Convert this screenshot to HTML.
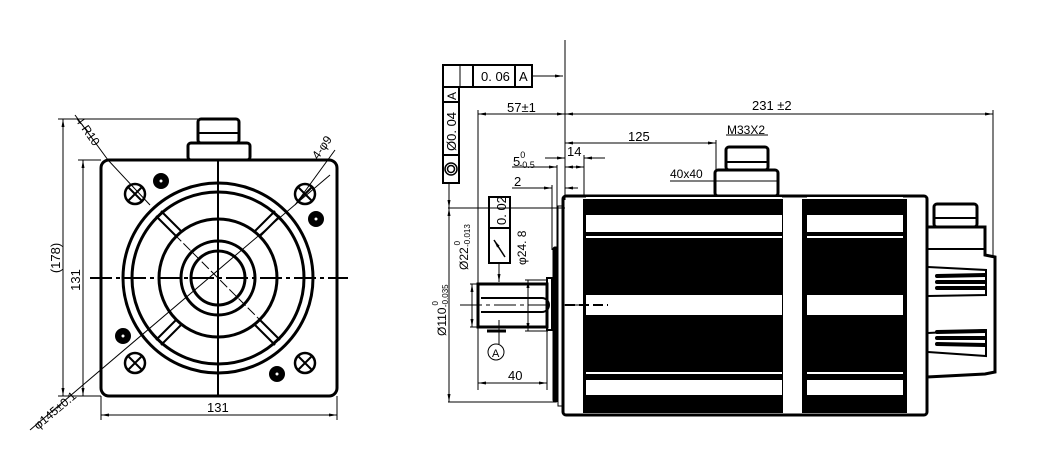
<!DOCTYPE html>
<html><head><meta charset="utf-8"><style>
html,body{margin:0;padding:0;background:#fff;width:1053px;height:461px;overflow:hidden}
svg text{font-family:"Liberation Sans",sans-serif;fill:#000}
</style></head><body>
<svg width="1053" height="461" viewBox="0 0 1053 461" xmlns="http://www.w3.org/2000/svg">
<defs>
<marker id="a" markerWidth="8" markerHeight="6" refX="8" refY="3" orient="auto-start-reverse" markerUnits="userSpaceOnUse"><path d="M0,1.5 L8,3 L0,4.5z" fill="#000"/></marker>
</defs>
<g fill="none" stroke="#000">
<rect x="101" y="160" width="236" height="236" rx="8" stroke-width="3"/>
<rect x="188" y="143" width="62" height="17" rx="3" stroke-width="3"/>
<rect x="198" y="119" width="41" height="24" rx="3" stroke-width="3"/>
<line x1="199" y1="133" x2="238" y2="133" stroke-width="2"/>
<g stroke-width="3">
<circle cx="218" cy="278" r="95"/>
<circle cx="218" cy="278" r="86"/>
<circle cx="218" cy="278" r="59"/>
<circle cx="218" cy="278" r="37"/>
<circle cx="218" cy="278" r="27"/>
</g>
<g stroke-width="2">
<line x1="156" y1="216" x2="176" y2="236"/><line x1="161" y1="211" x2="181" y2="231"/>
<line x1="280" y1="216" x2="260" y2="236"/><line x1="275" y1="211" x2="255" y2="231"/>
<line x1="156" y1="340" x2="176" y2="320"/><line x1="161" y1="345" x2="181" y2="325"/>
<line x1="280" y1="340" x2="260" y2="320"/><line x1="275" y1="345" x2="255" y2="325"/>
</g>
<line x1="218" y1="160" x2="218" y2="396" stroke-width="2"/>
<line x1="90" y1="278" x2="348" y2="278" stroke-width="2" stroke-dasharray="22,4,4,4"/>
<line x1="165" y1="225" x2="271" y2="331" stroke-width="1" stroke-dasharray="10,3"/>
<line x1="30" y1="430" x2="330" y2="175" stroke-width="1"/>
<line x1="75" y1="115" x2="108" y2="160" stroke-width="1"/>
<line x1="108" y1="160" x2="150" y2="205" stroke-width="1"/>
<line x1="335" y1="150" x2="295" y2="205" stroke-width="1"/>
<g stroke-width="2.5">
<circle cx="135" cy="194" r="10"/><circle cx="305" cy="194" r="10"/>
<circle cx="135" cy="363" r="10"/><circle cx="305" cy="363" r="10"/>
</g>
<g stroke-width="2">
<path d="M128,187l14,14M142,187l-14,14M298,187l14,14M312,187l-14,14M128,356l14,14M142,356l-14,14M298,356l14,14M312,356l-14,14"/>
</g>
<g stroke-width="1">
<line x1="63" y1="119" x2="63" y2="396" marker-start="url(#a)" marker-end="url(#a)"/>
<line x1="58" y1="119" x2="198" y2="119"/>
<line x1="58" y1="396" x2="101" y2="396"/>
<line x1="83" y1="160" x2="83" y2="396" marker-start="url(#a)" marker-end="url(#a)"/>
<line x1="78" y1="160" x2="101" y2="160"/>
<line x1="101" y1="396" x2="101" y2="420"/><line x1="337" y1="396" x2="337" y2="420"/>
<line x1="101" y1="415" x2="337" y2="415" marker-start="url(#a)" marker-end="url(#a)"/>
</g>
</g>
<g fill="#000">
<circle cx="161" cy="181" r="8"/><circle cx="316" cy="219" r="8"/>
<circle cx="123" cy="336" r="8"/><circle cx="277" cy="374" r="8"/>
</g>
<g fill="#fff"><circle cx="161" cy="181" r="1.5"/><circle cx="316" cy="219" r="1.5"/><circle cx="123" cy="336" r="1.5"/><circle cx="277" cy="374" r="1.5"/></g>
<text x="207" y="412" font-size="13">131</text>
<text transform="translate(60,258) rotate(-90)" font-size="13" text-anchor="middle">(178)</text>
<text transform="translate(80,280) rotate(-90)" font-size="13" text-anchor="middle">131</text>
<text transform="translate(75,120) rotate(55)" font-size="12">4-R10</text>
<text transform="translate(318,160) rotate(-55)" font-size="12">4-φ9</text>
<text transform="translate(38,430) rotate(-40)" font-size="12">φ145±0.1</text>

<g fill="none" stroke="#000">
<line x1="565" y1="40" x2="565" y2="200" stroke-width="1"/>
<rect x="443" y="65" width="89" height="22" stroke-width="2"/>
<line x1="473" y1="65" x2="473" y2="87" stroke-width="2"/><line x1="515" y1="65" x2="515" y2="87" stroke-width="2"/>
<line x1="460" y1="65" x2="460" y2="87" stroke-width="1"/>
<rect x="443" y="87" width="16" height="96" stroke-width="2"/>
<line x1="443" y1="102" x2="459" y2="102" stroke-width="2"/><line x1="443" y1="155" x2="459" y2="155" stroke-width="2"/>
<circle cx="451" cy="169" r="6" stroke-width="1.5"/><circle cx="451" cy="169" r="3.5" stroke-width="1.5"/>
<line x1="532" y1="76" x2="563" y2="76" stroke-width="1" marker-end="url(#a)"/>
<line x1="449" y1="183" x2="449" y2="208" stroke-width="1" marker-end="url(#a)"/>
<g stroke-width="1">
<line x1="478" y1="114" x2="565" y2="114" marker-start="url(#a)" marker-end="url(#a)"/>
<line x1="565" y1="114" x2="993" y2="114" marker-start="url(#a)" marker-end="url(#a)"/>
<line x1="993" y1="110" x2="993" y2="258"/>
<line x1="478" y1="110" x2="478" y2="390"/>
<line x1="565" y1="143" x2="716" y2="143" marker-start="url(#a)" marker-end="url(#a)"/>
<line x1="716" y1="140" x2="716" y2="170"/>
<line x1="545" y1="158" x2="565" y2="158" marker-end="url(#a)"/>
<line x1="584" y1="158" x2="605" y2="158" marker-start="url(#a)"/>
<line x1="584" y1="155" x2="584" y2="195"/>
<line x1="512" y1="167" x2="557" y2="167" marker-end="url(#a)"/>
<line x1="565" y1="167" x2="584" y2="167" marker-start="url(#a)" marker-end="url(#a)"/>
<line x1="557" y1="165" x2="557" y2="250"/>
<line x1="552" y1="185" x2="552" y2="250"/>
<line x1="512" y1="188" x2="552" y2="188" marker-end="url(#a)"/>
<line x1="565" y1="188" x2="578" y2="188" marker-start="url(#a)"/>
<line x1="726" y1="135" x2="768" y2="135"/>
<line x1="670" y1="181" x2="778" y2="181"/>
<line x1="448" y1="208" x2="565" y2="208"/>
<line x1="448" y1="402" x2="556" y2="402"/>
<line x1="449" y1="208" x2="449" y2="402" marker-start="url(#a)" marker-end="url(#a)"/>
<line x1="470" y1="284" x2="478" y2="284"/><line x1="470" y1="327" x2="478" y2="327"/>
<line x1="472" y1="284" x2="472" y2="327" marker-start="url(#a)" marker-end="url(#a)"/>
<line x1="525" y1="280" x2="548" y2="280"/><line x1="525" y1="331" x2="548" y2="331"/>
<line x1="528" y1="280" x2="528" y2="331" marker-start="url(#a)" marker-end="url(#a)"/>
<line x1="547" y1="330" x2="547" y2="390"/>
<line x1="478" y1="383" x2="547" y2="383" marker-start="url(#a)" marker-end="url(#a)"/>
<line x1="499" y1="263" x2="499" y2="282" marker-end="url(#a)"/>
<line x1="499" y1="320" x2="499" y2="344"/>
<line x1="460" y1="305" x2="608" y2="305" stroke-dasharray="22,4,4,4"/>
</g>
<rect x="489" y="197" width="21" height="66" stroke-width="2"/>
<line x1="489" y1="228" x2="510" y2="228" stroke-width="2"/>
<line x1="505" y1="257" x2="494" y2="240" stroke-width="1.5" marker-end="url(#a)"/>
<circle cx="496" cy="352" r="8" stroke-width="1"/>
<line x1="487" y1="331" x2="506" y2="331" stroke-width="3"/>
<rect x="478" y="284" width="69" height="43" stroke-width="3"/>
<path d="M481,298 H542 a7,7 0 0 1 0,14 H481" stroke-width="2"/>
<rect x="547" y="278" width="5" height="52" stroke-width="2"/>
<rect x="553" y="247" width="5" height="155" rx="2" fill="#000"/>
<rect x="558" y="206" width="5" height="200" stroke-width="1"/>
<rect x="563" y="196" width="364" height="219" rx="3" stroke-width="3"/>
<rect x="715" y="170" width="63" height="26" rx="3" stroke-width="3"/>
<rect x="726" y="147" width="42" height="23" rx="3" stroke-width="3"/>
<line x1="727" y1="162" x2="767" y2="162" stroke-width="2"/>
<path d="M927,227 H985 V255 L995,257 V372 L985,374 L927,377" stroke-width="3"/>
<rect x="934" y="204" width="43" height="23" rx="3" stroke-width="3"/>
<line x1="935" y1="218" x2="976" y2="218" stroke-width="2"/>
<line x1="927" y1="249" x2="985" y2="249" stroke-width="2"/>
<path d="M928,267 L986,270 V295 L928,296" stroke-width="2"/>
<path d="M928,333 L986,330 V356 L928,352" stroke-width="2"/>
</g>
<g fill="#000">
<rect x="583" y="199" width="200" height="214"/>
<rect x="802" y="199" width="105" height="214"/>
<g stroke="#000" stroke-width="4" stroke-linecap="round"><line x1="937" y1="276" x2="985" y2="275"/><line x1="937" y1="282" x2="985" y2="282"/><line x1="937" y1="288" x2="985" y2="288"/>
<line x1="937" y1="332" x2="985" y2="331"/><line x1="937" y1="338" x2="985" y2="338"/><line x1="937" y1="344" x2="985" y2="345"/></g>
</g>
<g fill="#fff">
<rect x="586" y="215" width="196" height="17"/><rect x="807" y="215" width="96" height="17"/>
<rect x="586" y="236" width="196" height="2"/><rect x="807" y="236" width="96" height="2"/>
<rect x="586" y="295" width="196" height="20"/><rect x="807" y="295" width="96" height="20"/>
<rect x="586" y="372" width="196" height="2"/><rect x="807" y="372" width="96" height="2"/>
<rect x="586" y="380" width="196" height="15"/><rect x="807" y="380" width="96" height="15"/>
<rect x="586" y="197" width="196" height="1"/><rect x="807" y="197" width="96" height="1"/>
</g>
<line x1="565" y1="305" x2="608" y2="305" stroke="#000" stroke-width="2" stroke-dasharray="10,4"/>
<g font-size="13">
<text x="481" y="81" font-family="Liberation Serif" font-size="13">0. 06</text>
<text x="519" y="81" font-family="Liberation Serif">A</text>
<text transform="translate(456,100) rotate(-90)" font-family="Liberation Serif" font-size="12">A</text>
<text transform="translate(456,151) rotate(-90)" font-family="Liberation Serif" font-size="13">Ø0. 04</text>
<text transform="translate(506,225) rotate(-90)" font-family="Liberation Serif" font-size="13">0. 02</text>
<text x="507" y="112">57±1</text>
<text x="752" y="110">231 ±2</text>
<text x="628" y="141">125</text>
<text x="567" y="156">14</text>
<text x="727" y="134" font-size="12">M33X2</text>
<text x="670" y="178" font-size="12">40x40</text>
<text x="513" y="166">5<tspan font-size="9" dy="-8" dx="0">0</tspan><tspan font-size="9" dy="10" dx="-6">-0.5</tspan></text>
<text x="514" y="186">2</text>
<text x="508" y="380">40</text>
<text x="492" y="357" font-size="11">A</text>
<text transform="translate(468,270) rotate(-90)" font-size="12">Ø22<tspan font-size="8" dy="-8" dx="2">0</tspan><tspan font-size="8" dy="10" dx="-6">-0.013</tspan></text>
<text transform="translate(446,336) rotate(-90)" font-size="12">Ø110<tspan font-size="8" dy="-8" dx="2">0</tspan><tspan font-size="8" dy="10" dx="-6">-0.035</tspan></text>
<text transform="translate(526,265) rotate(-90)" font-size="12">φ24. 8</text>
</g>
</svg>
</body></html>
